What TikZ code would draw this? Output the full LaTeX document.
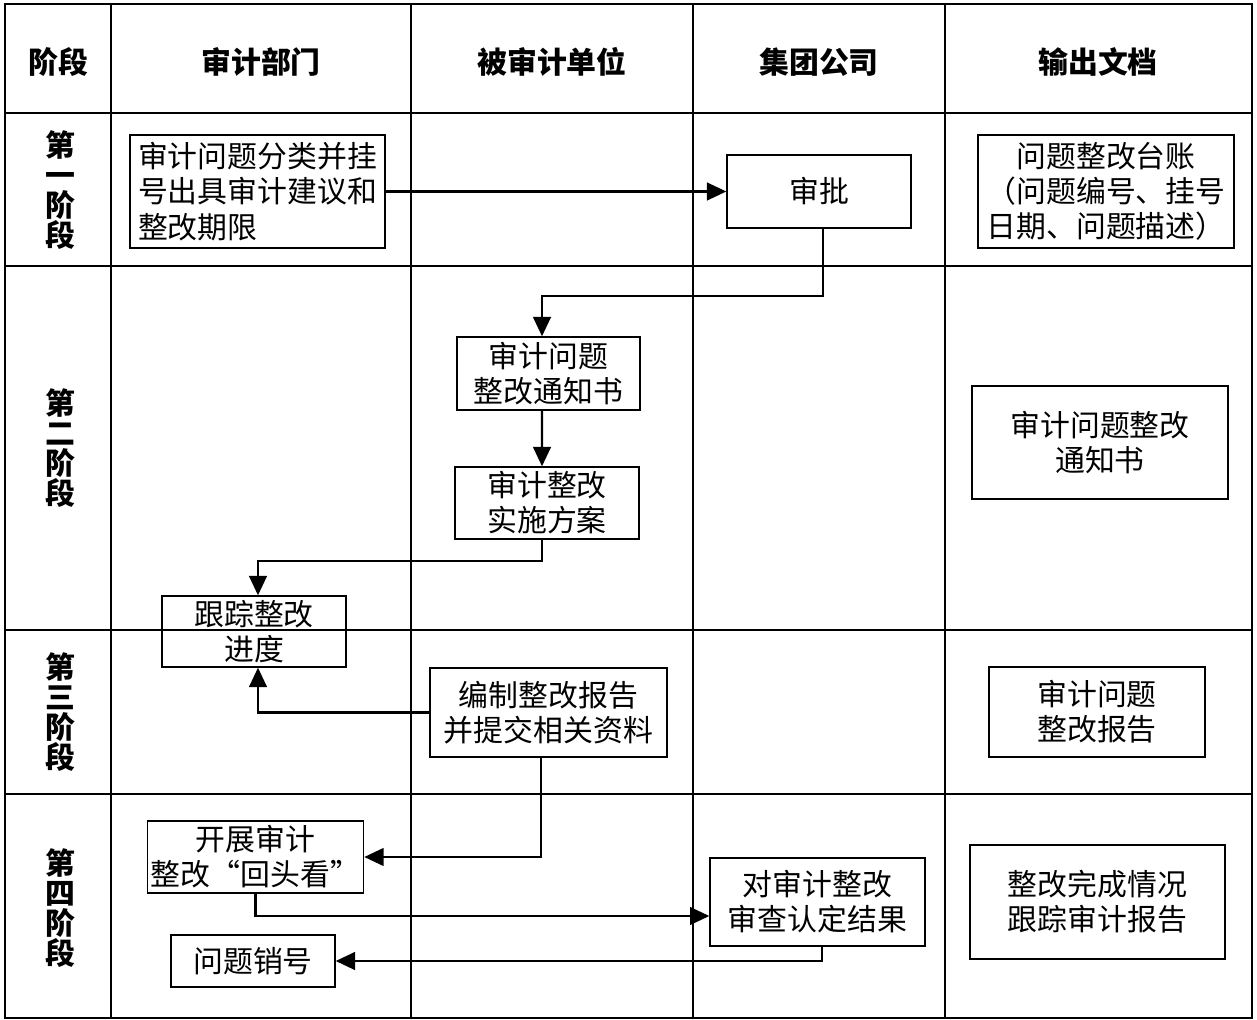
\documentclass[tikz,border=0pt]{standalone}
\usepackage{fontspec}
\newfontfamily\cjk{Noto Sans CJK SC}
\usepackage{tikz}
\usetikzlibrary{arrows.meta}
\tikzset{
  box/.style={draw, line width=0.8pt, inner sep=2pt, align=center, font=\cjk\fontsize{17}{20}\selectfont},
  head/.style={font=\cjk\bfseries\fontsize{17}{20}\selectfont},
  stage/.style={align=center, font=\cjk\bfseries\fontsize{17}{17}\selectfont},
  arr/.style={line width=1.4pt, -{Triangle[length=11pt,width=10pt]}}
}

\begin{document}
\begin{tikzpicture}[x=0.02cm, y=-0.02cm]
			%%%%% START %%%%%
			\useasboundingbox (0, 0) rectangle (1257, 1020);
			
			% table
			\draw[line width=0.8pt] (5, 4) rectangle (1252, 1018);
			\foreach \cx in {111, 411, 693, 945}
				\draw[line width=0.8pt] (\cx, 4) -- (\cx, 1018);
			\foreach \ry in {113, 266, 630, 794}
				\draw[line width=0.8pt] (5, \ry) -- (1252, \ry);
			
			% headers
			\node[head] (hstage) at (58, 62) {阶段};
			\node[head] (haudit) at (261, 62) {审计部门};
			\node[head] (hunit) at (552, 62) {被审计单位};
			\node[head] (hgroup) at (819, 62) {集团公司};
			\node[head] (hdoc) at (1098, 62) {输出文档};
			
			\node[stage] (stage1) at (60, 190) {第\\一\\阶\\段};
			\node[stage] (stage2) at (60, 448) {第\\二\\阶\\段};
			\node[stage] (stage3) at (60, 712) {第\\三\\阶\\段};
			\node[stage] (stage4) at (60, 908) {第\\四\\阶\\段};
			
			% boxes
			\node[box, align=left, minimum width=5.1cm, minimum height=2.26cm] (classify) at (257.5, 191.5) {审计问题分类并挂\\号出具审计建议和\\整改期限};
			\node[box, minimum width=3.68cm, minimum height=1.46cm] (approve) at (819, 191.5) {审批};
			\node[box, minimum width=5.12cm, minimum height=2.26cm] (ledger) at (1106, 191.5) {问题整改台账\\（问题编号、挂号\\日期、问题描述）};
			
			\node[box, minimum width=3.66cm, minimum height=1.46cm] (notice) at (548.5, 373.5) {审计问题\\整改通知书};
			\node[box, minimum width=3.68cm, minimum height=1.44cm] (plan) at (547, 503) {审计整改\\实施方案};
			\node[box, minimum width=3.68cm, minimum height=1.42cm] (track) at (254, 631.5) {跟踪整改\\进度};
			\node[box, minimum width=5.12cm, minimum height=2.26cm] (noticedoc) at (1100, 442.5) {审计问题整改\\通知书};
			
			\node[box, minimum width=4.74cm, minimum height=1.78cm] (report) at (548.5, 712.5) {编制整改报告\\并提交相关资料};
			\node[box, minimum width=4.32cm, minimum height=1.8cm] (reportdoc) at (1097, 712) {审计问题\\整改报告};
			
			\node[box, minimum width=4.3cm, minimum height=1.44cm] (lookback) at (255.5, 857) {开展审计\\整改“回头看”};
			\node[box, minimum width=4.3cm, minimum height=1.76cm] (confirm) at (817.5, 902) {对审计整改\\审查认定结果};
			\node[box, minimum width=3.28cm, minimum height=1.04cm] (close) at (253, 961) {问题销号};
			\node[box, minimum width=5.1cm, minimum height=2.28cm] (finaldoc) at (1097.5, 902) {整改完成情况\\跟踪审计报告};
			
			% arrows
			\draw[arr] (classify) -- (approve);
			\draw[arr] ([xshift=0.08cm]approve.south) -- ([xshift=0.08cm]approve.south |- 0, 296) -| ([xshift=-0.13cm]notice.north);
			\draw[arr] ([xshift=-0.13cm]notice.south) -- ([xshift=-0.1cm]plan.north);
			\draw[arr] ([xshift=-0.1cm]plan.south) -- ([xshift=-0.1cm]plan.south |- 0, 561) -| ([xshift=0.08cm]track.north);
			\draw[arr] (report.west) -| ([xshift=0.08cm]track.south);
			\draw[arr] ([xshift=-0.15cm]report.south) |- (lookback.east);
			\draw[arr] (lookback.south) |- (confirm.west |- 0, 916);
			\draw[arr] ([xshift=0.09cm]confirm.south) |- (close.east);
			
			%%%%% END %%%%%
\end{tikzpicture}
\end{document}
